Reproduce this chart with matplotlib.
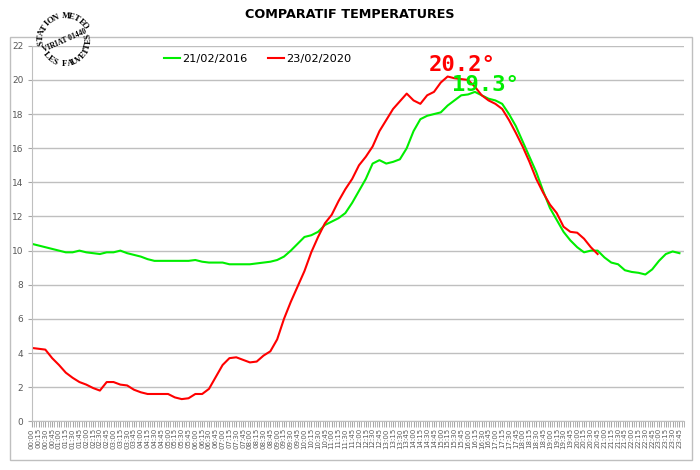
import numpy as np
import matplotlib
matplotlib.use("Agg")
import matplotlib.pyplot as plt
from matplotlib.patches import Rectangle
from matplotlib.ticker import MultipleLocator

# 15-minute readings, 00:00 -> 23:45
green_2016 = [10.4, 10.3, 10.2, 10.1, 10.0, 9.9, 9.9, 10.0, 9.9, 9.85, 9.8, 9.9,
              9.9, 10.0, 9.85, 9.75, 9.65, 9.5, 9.4, 9.4, 9.4, 9.4, 9.4, 9.4,
              9.45, 9.35, 9.3, 9.3, 9.3, 9.2, 9.2, 9.2, 9.2, 9.25, 9.3, 9.35,
              9.45, 9.65, 10.0, 10.4, 10.8, 10.9, 11.1, 11.5, 11.7, 11.9, 12.2, 12.8,
              13.5, 14.2, 15.1, 15.3, 15.1, 15.2, 15.35, 16.0, 17.0, 17.7, 17.9, 18.0,
              18.1, 18.5, 18.8, 19.1, 19.15, 19.3, 19.1, 18.9, 18.8, 18.6, 18.0, 17.3,
              16.4, 15.5, 14.6, 13.5, 12.5, 11.8, 11.1, 10.6, 10.2, 9.9, 10.0, 10.0,
              9.6, 9.3, 9.2, 8.85, 8.75, 8.7, 8.6, 8.9, 9.4, 9.8, 9.95, 9.85]

# 00:00 -> 20:45
red_2020 = [4.3, 4.25, 4.2, 3.7, 3.3, 2.85, 2.55, 2.3, 2.15, 1.95, 1.8, 2.3,
            2.3, 2.15, 2.1, 1.85, 1.7, 1.6, 1.6, 1.6, 1.6, 1.4, 1.3, 1.35,
            1.6, 1.6, 1.9, 2.6, 3.3, 3.7, 3.75, 3.6, 3.45, 3.5, 3.85, 4.1,
            4.8, 6.0, 7.0, 7.9, 8.8, 9.9, 10.8, 11.6, 12.1, 12.9, 13.6, 14.2,
            15.0, 15.5, 16.1, 17.0, 17.65, 18.3, 18.75, 19.2, 18.8, 18.6, 19.1, 19.3,
            19.85, 20.2, 20.1, 20.05, 20.0, 19.6, 19.1, 18.8, 18.6, 18.3, 17.65, 16.9,
            16.1, 15.2, 14.2, 13.4, 12.7, 12.2, 11.4, 11.1, 11.05, 10.7, 10.2, 9.8]

labels = ["%02d:%02d" % (m // 60, m % 60) for m in range(0, 1440, 15)]
minutes_green = np.arange(len(green_2016)) * 15
minutes_red = np.arange(len(red_2020)) * 15

W, H = 700, 470
fig = plt.figure(figsize=(7, 4.7), dpi=100)
ax = fig.add_axes([31.7 / W, 1 - 421.3 / H, (684 - 31.7) / W, (421.3 - 45.8) / H])

ax.plot(minutes_green, green_2016, color="#00ee00", lw=1.5, label="21/02/2016")
ax.plot(minutes_red, red_2020, color="#ff0000", lw=1.5, label="23/02/2020")

ax.set_xlim(0, 1435)
ax.set_ylim(0, 22)
ax.set_yticks(range(0, 23, 2))
ax.set_xticks(np.arange(0, 1440, 15))
ax.set_xticklabels(labels, rotation=90, fontsize=5, color="#595959")
ax.xaxis.set_minor_locator(MultipleLocator(5))
ax.tick_params(axis="x", which="both", length=4, color="#a6a6a6", pad=1)
ax.tick_params(axis="y", length=3, color="#a6a6a6", labelsize=6.5, labelcolor="#595959", pad=3)
ax.grid(axis="y", color="#bfbfbf", lw=1)
ax.set_axisbelow(True)
for s in ["top", "right"]:
    ax.spines[s].set_visible(False)
for s in ["left", "bottom"]:
    ax.spines[s].set_color("#bfbfbf")

ax.text(948, 20.87, "20.2°", color="#ff0000", fontsize=16, family="DejaVu Sans Mono",
        fontweight="bold", ha="center", va="center")
ax.text(998, 19.7, "19.3°", color="#00ee00", fontsize=16, family="DejaVu Sans Mono",
        fontweight="bold", ha="center", va="center")

fig.legend(loc="center", bbox_to_anchor=(258 / W, 1 - 59 / H), ncol=2, frameon=False,
           fontsize=8.2, handlelength=1.4, handletextpad=0.2, columnspacing=1.8)

fig.text(0.5, 1 - 14 / H, "COMPARATIF TEMPERATURES", ha="center", va="center",
         fontsize=9.2, fontweight="bold")

fig.patches.append(Rectangle((10 / W, 1 - 460 / H), 682 / W, 423 / H, transform=fig.transFigure,
                             fill=False, edgecolor="#bfbfbf", lw=1))

# stamp
cx, cy, r = 65, 40, 24


def arc_text(text, a0, a1, radius, rot_off):
    angles = np.linspace(a0, a1, len(text))
    for ch, a in zip(text, angles):
        px = cx + radius * np.cos(np.radians(a))
        py = cy - radius * np.sin(np.radians(a))
        fig.text(px / W, 1 - py / H, ch, fontsize=6.3, family="Liberation Serif",
                 fontweight="bold", ha="center", va="center", rotation=a + rot_off,
                 rotation_mode="anchor")


arc_text("STATION METEO", 188, 36, r, -90)
arc_text("LES FAUVETTES", 220, 370, r, 90)
fig.text(cx / W, 1 - (cy + 1) / H, "VIRIAT 01440", fontsize=5.5, family="Liberation Serif",
         fontweight="bold", ha="center", va="center", rotation=24, rotation_mode="anchor")

fig.savefig("out.png", dpi=100)
